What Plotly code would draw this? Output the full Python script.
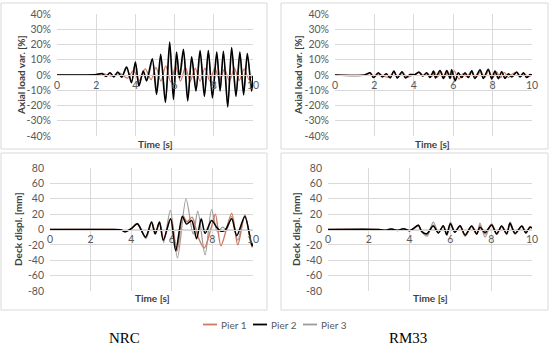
import plotly.graph_objects as go

# ---------------- DATA ----------------
# Panel 1: NRC, axial load variation [%]
nrc_ax_p2_t = [0, 1.5, 2.0, 2.3, 2.5, 2.7, 2.9, 3.1, 3.3, 3.55, 3.8, 4.0, 4.18, 4.4, 4.57, 4.86, 5.08, 5.29, 5.53, 5.75, 5.94, 6.1, 6.25, 6.45, 6.67, 6.87, 7.09, 7.3, 7.52, 7.72, 7.93, 8.15, 8.32, 8.49, 8.71, 8.91, 9.13, 9.33, 9.52, 9.71, 9.93, 10.0]
nrc_ax_p2_v = [0, 0, 0.3, 1.0, -1.0, 1.5, -1.2, 2.0, -1.5, 5.2, -5.0, 8.5, -7.2, 2.6, -3.9, 10.7, -12.7, 13.6, -18, 21.6, -16, 15, -2, 16.8, -17, 12, -10.5, 16, -14, 16, -15, 15, -10.5, 15.6, -21, 18, -14, 15, -13, 14, -10.5, 0]
nrc_ax_p3_t = [0, 1.5, 2.0, 2.3, 2.5, 2.7, 2.9, 3.1, 3.3, 3.55, 3.8, 4.0, 4.2, 4.4, 4.6, 4.88, 5.1, 5.3, 5.55, 5.76, 5.95, 6.12, 6.27, 6.47, 6.68, 6.88, 7.1, 7.31, 7.53, 7.73, 7.94, 8.16, 8.33, 8.5, 8.72, 8.92, 9.14, 9.34, 9.53, 9.72, 9.94, 10.0]
nrc_ax_p3_v = [0, 0, 0.2, 0.8, -0.8, 1.2, -1.0, 1.6, -1.2, 4.5, -4.2, 7.5, -6.0, 2.2, -3.2, 9.5, -11, 12, -16, 19, -14, 13, -2, 15, -15, 11, -9.5, 14.5, -12.5, 14.5, -13.5, 13.5, -9.5, 14, -18.5, 16, -12.5, 13.5, -11.5, 12.5, -9.5, 0]
nrc_ax_p1_t = [0, 2.0, 2.4, 2.8, 3.2, 3.6, 3.9, 4.2, 4.5, 4.8, 5.05, 5.3, 5.55, 5.8, 6.05, 6.3, 6.55, 6.8, 7.05, 7.3, 7.55, 7.8, 8.05, 8.3, 8.55, 8.8, 9.05, 9.3, 9.55, 9.8, 10.0]
nrc_ax_p1_v = [0, 0, 0.8, -0.8, 1.2, -2.0, 3.0, -3.5, 4.0, -3.0, 5.0, -4.0, 6.0, -4.5, 5.5, -4.0, 5.0, -4.0, 4.5, -4.0, 4.5, -4.0, 4.5, -3.5, 4.0, -4.0, 4.5, -3.5, 4.0, -3.0, 0]

# Panel 2: RM33, axial load variation [%]
rm_ax_p2_t = [0, 1.5, 1.78, 1.95, 2.2, 2.4, 2.6, 2.8, 2.99, 3.16, 3.4, 3.58, 3.8, 4.05, 4.26, 4.45, 4.65, 4.82, 5.0, 5.1, 5.33, 5.5, 5.67, 5.84, 5.92, 6.1, 6.26, 6.43, 6.6, 6.77, 6.94, 7.1, 7.36, 7.53, 7.78, 7.95, 8.12, 8.29, 8.46, 8.63, 8.8, 8.97, 9.22, 9.39, 9.56, 9.73, 9.9, 10.0]
rm_ax_p2_v = [0, 0, 1.5, -1.7, 1.5, -1.3, 0.9, -1.9, 2.6, -2.0, 2.2, -2.0, 0.3, 0.2, 2.0, -0.7, 1.5, -1.7, 2.6, -2.0, 3.0, -2.3, 3.0, -2.3, 3.5, -3.8, 1.5, -1.7, 1.5, -1.7, 2.8, -2.3, 3.4, -2.3, 3.8, -2.6, 2.6, -2.4, 2.2, -2.2, 0.9, -1.3, 2.0, -1.3, 1.5, -1.7, 0.3, 0]
rm_ax_p3_t = [0, 1.5, 1.8, 1.97, 2.22, 2.42, 2.62, 2.82, 3.0, 3.18, 3.42, 3.6, 3.82, 4.07, 4.28, 4.47, 4.67, 4.84, 5.02, 5.12, 5.35, 5.52, 5.69, 5.86, 5.94, 6.12, 6.28, 6.45, 6.62, 6.79, 6.96, 7.12, 7.38, 7.55, 7.8, 7.97, 8.14, 8.31, 8.48, 8.65, 8.82, 8.99, 9.24, 9.41, 9.58, 9.75, 9.92, 10.0]
rm_ax_p3_v = [0, 0, 1.3, -1.5, 1.3, -1.1, 0.8, -1.7, 2.3, -1.8, 2.0, -1.8, 0.2, 0.2, 1.8, -0.6, 1.3, -1.5, 2.3, -1.8, 2.7, -2.0, 2.7, -2.0, 3.1, -3.3, 1.3, -1.5, 1.3, -1.5, 2.5, -2.0, 3.0, -2.0, 3.3, -2.3, 2.3, -2.1, 2.0, -2.0, 0.8, -1.1, 1.8, -1.1, 1.3, -1.5, 0.3, 0]
rm_ax_p1_t = [0, 1.5, 1.8, 2.0, 2.25, 2.5, 2.75, 3.0, 3.2, 3.45, 3.65, 4.0, 4.3, 4.5, 4.7, 4.9, 5.05, 5.2, 5.38, 5.55, 5.72, 5.9, 6.05, 6.3, 6.5, 6.7, 6.9, 7.15, 7.4, 7.6, 7.8, 8.0, 8.2, 8.4, 8.6, 8.8, 9.0, 9.25, 9.45, 9.6, 9.8, 10.0]
rm_ax_p1_v = [0, 0, 1.0, -1.2, 1.0, -1.0, -1.4, 2.0, -1.5, 1.7, -1.5, 0.2, 1.5, -0.5, 1.1, -1.2, 2.0, -1.5, 2.3, -1.8, 2.3, -1.8, 2.7, -2.8, 1.1, -1.2, 2.2, -1.8, 2.6, -1.8, 2.9, -2.0, 2.0, -1.8, 1.7, -1.7, 0.7, 1.5, -1.0, 1.1, -1.2, 0]

# Panel 3: NRC, deck displacement [mm]
nrc_dk_p2_t = [0, 3.0, 3.5, 3.7, 4.0, 4.3, 4.71, 5.0, 5.18, 5.39, 5.58, 5.94, 6.19, 6.52, 6.73, 6.98, 7.22, 7.45, 7.64, 7.96, 8.21, 8.4, 8.62, 8.95, 9.2, 9.6, 9.95, 10.0]
nrc_dk_p2_v = [0, 0, -0.5, -3, 1, 7.4, -10, 9.6, -5.7, 9.6, -14, 14, -27.5, 17, 7, 11.8, -12, 14, -5, 11.8, 3, -2, -1.3, 14, -8, 17, -21, -18]
nrc_dk_p3_t = [0, 3.0, 3.5, 3.7, 4.0, 4.32, 4.72, 5.02, 5.2, 5.4, 5.6, 5.93, 6.28, 6.7, 7.05, 7.28, 7.64, 7.96, 8.25, 8.5, 8.7, 8.95, 9.25, 9.6, 9.95, 10.0]
nrc_dk_p3_v = [0, 0, -0.5, -3, 1, 8, -12, 10, -6, 10, -17, 25, -37, 40, -6, 24, -33, 26, -3, 3, 0, 17, -14, 18, -23, -20]
nrc_dk_p1_t = [0, 3.0, 3.5, 3.7, 4.0, 4.3, 4.7, 5.0, 5.2, 5.4, 5.6, 5.95, 6.25, 6.55, 6.75, 7.0, 7.3, 7.6, 7.95, 8.15, 8.42, 8.95, 9.25, 9.6, 9.95, 10.0]
nrc_dk_p1_v = [0, 0, -0.5, -3, 1, 7, -10, 9, -5, 9, -13, 14, -28, 18, 10, 16, -10, -24, 3, 20, -21, 21, -20, 19, -22, -19]

# Panel 4: RM33, deck displacement [mm]
rm_dk_p2_t = [0, 2.5, 2.8, 3.1, 3.4, 3.7, 4.0, 4.2, 4.43, 4.59, 4.84, 5.16, 5.41, 5.65, 5.82, 6.0, 6.22, 6.47, 6.72, 7.04, 7.29, 7.45, 7.7, 8.02, 8.27, 8.51, 8.76, 8.92, 9.17, 9.5, 9.7, 9.9, 10.0]
rm_dk_p2_v = [0, 0, -1.0, 0.8, -1.2, 1.0, -1.5, 1.5, 5.5, -2.6, -5.5, 4.4, -4.4, 5.0, -6.5, 7.4, -3.5, 5.0, -7.0, 4.4, -5.7, 3.0, -4.0, 6.0, -5.7, 4.4, -5.7, 8.0, -5.0, 4.4, -4.4, 3.0, 2.0]
rm_dk_p3_t = [0, 2.5, 2.8, 3.1, 3.4, 3.7, 4.0, 4.2, 4.43, 4.6, 4.86, 5.16, 5.42, 5.65, 5.83, 6.0, 6.23, 6.48, 6.73, 7.05, 7.3, 7.45, 7.7, 8.02, 8.28, 8.52, 8.77, 8.93, 9.18, 9.5, 9.7, 9.9, 10.0]
rm_dk_p3_v = [0, 0, -1.0, 0.8, -1.2, 1.0, -1.5, 1.5, 6.0, -3.0, -8.7, 9.6, -4.4, 5.0, -8.0, 9.6, -3.5, 5.0, -9.0, 4.4, -5.7, 8.3, -10, 7.4, -5.7, 4.4, -5.7, 9.6, -5.7, 4.4, -4.4, 4.0, 2.0]
rm_dk_p1_t = [0, 2.5, 2.8, 3.1, 3.4, 3.7, 4.0, 4.2, 4.43, 4.6, 4.85, 5.16, 5.41, 5.65, 5.82, 6.0, 6.22, 6.47, 6.72, 7.04, 7.29, 7.45, 7.7, 8.02, 8.27, 8.51, 8.76, 8.92, 9.17, 9.5, 9.7, 9.9, 10.0]
rm_dk_p1_v = [0, 0, -0.8, 0.6, -1.0, 0.8, -1.2, 1.2, 5.0, -2.4, -6.5, 5.5, -4.4, 4.5, -7.0, 8.0, -3.5, 4.5, -8.0, 4.0, -6.0, 5.0, -6.0, 6.5, -6.0, 4.0, -6.0, 8.5, -6.0, 4.0, -4.0, 3.5, 2.0]

x_ticks = [0, 2, 4, 6, 8, 10]
ax_ticks = [-40, -30, -20, -10, 0, 10, 20, 30, 40]
ax_labels = [f"{v}%" for v in ax_ticks]
dk_ticks = [-80, -60, -40, -20, 0, 20, 40, 60, 80]
series_names = ["Pier 1", "Pier 2", "Pier 3"]
panel_titles = ["NRC", "RM33"]

# ---------------- STYLE ----------------
W, H = 550, 349
C1, C2, C3 = "#cf7a62", "#000000", "#9a9a9a"
GRID = "#d9d9d9"
TICKC = "#595959"
FONT = "Lato"

def px(x):
    return x / W

def py(y):
    return 1 - y / H

fig = go.Figure()

panels = [
    ("x", "y", [(nrc_ax_p3_t, nrc_ax_p3_v, C3, 1.2), (nrc_ax_p1_t, nrc_ax_p1_v, C1, 1.2), (nrc_ax_p2_t, nrc_ax_p2_v, C2, 1.6)]),
    ("x2", "y2", [(rm_ax_p3_t, rm_ax_p3_v, C3, 1.2), (rm_ax_p1_t, rm_ax_p1_v, C1, 1.2), (rm_ax_p2_t, rm_ax_p2_v, C2, 1.5)]),
    ("x3", "y3", [(nrc_dk_p3_t, nrc_dk_p3_v, C3, 1.2), (nrc_dk_p1_t, nrc_dk_p1_v, C1, 1.4), (nrc_dk_p2_t, nrc_dk_p2_v, C2, 1.5)]),
    ("x4", "y4", [(rm_dk_p3_t, rm_dk_p3_v, C3, 1.2), (rm_dk_p1_t, rm_dk_p1_v, C1, 1.4), (rm_dk_p2_t, rm_dk_p2_v, C2, 1.5)]),
]
for xa, ya, data in panels:
    for t, v, c, w in data:
        fig.add_trace(go.Scatter(x=t, y=v, mode="lines", xaxis=xa, yaxis=ya,
                                 line=dict(color=c, width=w, shape="spline", smoothing=0.8),
                                 showlegend=False, hoverinfo="skip"))

# plot-area pixel boxes (left, right, top, bottom)
boxes = [(57, 253, 14, 136), (335, 532, 14, 136), (50, 253, 168, 291), (328, 532, 168, 291)]
layout = dict(width=W, height=H, margin=dict(l=0, r=0, t=0, b=0, pad=0, autoexpand=False),
              paper_bgcolor="white", plot_bgcolor="white", showlegend=False,
              font=dict(family=FONT, size=10.5, color=TICKC))
for i, (l, r, t, b) in enumerate(boxes):
    n = "" if i == 0 else str(i + 1)
    ydom = [py(b), py(t)]
    is_ax = i < 2
    layout["xaxis" + n] = dict(domain=[px(l), px(r)], range=[0, 10], tickvals=x_ticks,
                               showgrid=True, gridcolor=GRID, gridwidth=1, zeroline=False,
                               showline=True, linecolor=GRID, linewidth=1,
                               anchor="free", position=(ydom[0] + ydom[1]) / 2,
                               ticks="", ticklen=0, automargin=False,
                               tickfont=dict(size=10.5, color=TICKC, family=FONT),
                               fixedrange=True)
    layout["yaxis" + n] = dict(domain=ydom, range=[-40, 40] if is_ax else [-80, 80],
                               tickvals=ax_ticks if is_ax else dk_ticks,
                               ticktext=ax_labels if is_ax else [str(v) for v in dk_ticks],
                               showgrid=True, gridcolor=GRID, gridwidth=1, zeroline=False,
                               showline=False, anchor="x" + n, ticks="", automargin=False,
                               ticklabelstandoff=5,
                               tickfont=dict(size=10.5, color=TICKC, family=FONT), fixedrange=True)
fig.update_layout(**layout)

# panel frames
shapes = []
for (x0, x1, y0, y1) in [(1, 267, 3, 149), (281, 548, 3, 149), (1, 267, 153, 310), (281, 548, 153, 310)]:
    shapes.append(dict(type="rect", xref="paper", yref="paper", x0=px(x0), x1=px(x1), y0=py(y1), y1=py(y0),
                       line=dict(color="#d9d9d9", width=1), layer="below"))

annotations = []
def ann(text, x, y, size=10, bold=False, angle=0, color="#404040", family=FONT, xanchor="center"):
    annotations.append(dict(text=f"<b>{text}</b>" if bold else text, x=px(x), y=py(y), xref="paper", yref="paper",
                            showarrow=False, textangle=angle, xanchor=xanchor, yanchor="middle",
                            font=dict(size=size, color=color, family=family)))

for x, y in [(155, 144), (432, 144), (152, 298), (430, 298)]:
    ann("Time [s]", x, y, bold=True)
ann("Axial load var. [%]", 21, 75, bold=True, angle=-90)
ann("Axial load var. [%]", 298, 75, bold=True, angle=-90)
ann("Deck displ. [mm]", 18, 229, bold=True, angle=-90)
ann("Deck displ. [mm]", 296, 229, bold=True, angle=-90)

# legend (drawn manually)
for (lx, col), name in zip([(203, C1), (253, C2), (303, C3)], series_names):
    shapes.append(dict(type="line", xref="paper", yref="paper", x0=px(lx), x1=px(lx + 14), y0=py(324.5), y1=py(324.5),
                       line=dict(color=col, width=1.8)))
    ann(name, lx + 16, 324.5, size=10, color=TICKC, xanchor="left")

ann(panel_titles[0], 124, 338, size=15, color="#000000", family="Liberation Serif")
ann(panel_titles[1], 408, 338, size=15, color="#000000", family="Liberation Serif")

fig.update_layout(shapes=shapes, annotations=annotations)
fig.write_html("out.html", config={"displayModeBar": False, "staticPlot": True},
               post_script="document.body.style.margin='0';document.body.style.padding='0';document.body.style.overflow='hidden';")
